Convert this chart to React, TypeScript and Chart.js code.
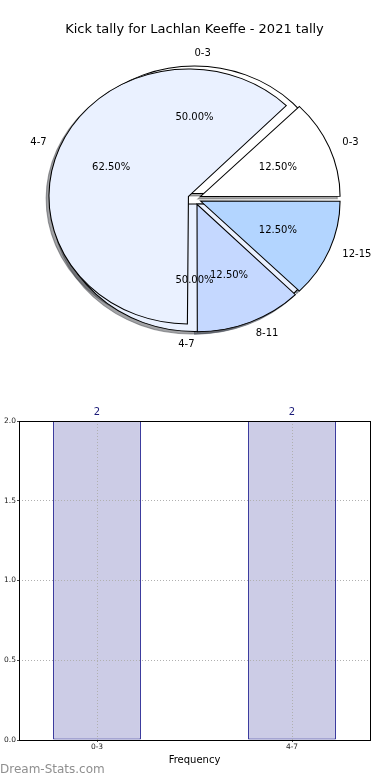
import React, { useEffect, useRef } from 'react';
import { Chart, registerables } from 'chart.js';

Chart.register(...registerables);
Chart.defaults.font.family = "'DejaVu Sans', sans-serif";

// ---------- data ----------
const TITLE = 'Kick tally for Lachlan Keeffe - 2021 tally';
const pieCategories = ['0-3', '4-7', '8-11', '12-15'];
const pieValues = [1, 5, 1, 1];
const pieColors = ['#ffffff', '#eaf1ff', '#c5d8ff', '#b3d5ff'];
const freqCategories = ['0-3', '4-7'];
const freqValues = [2, 2];
const freqPieColors = ['#ffffff', '#eaf1ff'];
const yTickValues = [0, 0.5, 1, 1.5, 2];
const X_AXIS_TITLE = 'Frequency';
const WATERMARK = 'Dream-Stats.com';

// ---------- geometry / style ----------
const R = 127.5; // vertical radius
const K = 1.094; // horizontal stretch (ellipse)
const FRONT_OFFSET = 24; // chart.js offset (px*4)
const BACK_OFFSET = 21;

function shadowColor(hex: string): string {
  const h = hex.replace('#', '');
  const r = parseInt(h.slice(0, 2), 16);
  const g = parseInt(h.slice(2, 4), 16);
  const b = parseInt(h.slice(4, 6), 16);
  return `rgba(${Math.round(r * 0.3)},${Math.round(g * 0.3)},${Math.round(b * 0.3)},0.5)`;
}

const piePlugin = {
  id: 'mplPie',
  afterDatasetsUpdate(chart: any) {
    chart.data.datasets.forEach((_ds: any, di: number) => {
      const meta = chart.getDatasetMeta(di);
      meta.data.forEach((arc: any) => {
        const off = (arc.options.offset || 0) / 4;
        const circ = arc.endAngle - arc.startAngle;
        const fix = 1 - Math.sin(Math.min(Math.PI, circ));
        arc.innerRadius = 0;
        arc.outerRadius = R - off * fix;
      });
    });
  },
  beforeDatasetsDraw(chart: any) {
    const ctx = chart.ctx;
    const a = chart.chartArea;
    const cx = (a.left + a.right) / 2;
    ctx.save();
    ctx.translate(cx, 0);
    ctx.scale(K, 1);
    ctx.translate(-cx, 0);
    for (let di = chart.data.datasets.length - 1; di >= 0; di--) {
      const meta = chart.getDatasetMeta(di);
      meta.data.forEach((arc: any) => {
        const orig = arc.options;
        const c = shadowColor(orig.backgroundColor);
        arc.options = { ...orig, backgroundColor: c, borderColor: c };
        ctx.save();
        ctx.translate(-0.02 * R, 0.02 * R);
        arc.draw(ctx);
        ctx.restore();
        arc.options = orig;
      });
    }
  },
  afterDatasetsDraw(chart: any) {
    const ctx = chart.ctx;
    ctx.restore();
    const a = chart.chartArea;
    const cx = (a.left + a.right) / 2;
    const cy = (a.top + a.bottom) / 2;
    ctx.save();
    ctx.fillStyle = '#000';
    ctx.font = "10px 'DejaVu Sans'";
    ctx.textBaseline = 'middle';
    for (let di = chart.data.datasets.length - 1; di >= 0; di--) {
      const ds = chart.data.datasets[di];
      const meta = chart.getDatasetMeta(di);
      const total = ds.data.reduce((s: number, v: number) => s + v, 0);
      meta.data.forEach((arc: any, i: number) => {
        const off = (arc.options.offset || 0) / 4;
        const mid = (arc.startAngle + arc.endAngle) / 2;
        const ca = Math.cos(mid);
        const sa = Math.sin(mid);
        const mpl = 2 * Math.PI - mid;
        const alignRight = Math.cos(mpl) <= 0;
        const lx = cx + K * (off + 1.1 * R) * ca;
        const ly = cy + (off + 1.1 * R) * sa;
        ctx.textAlign = alignRight ? 'right' : 'left';
        ctx.fillText(ds.catLabels[i], lx, ly);
        const px = cx + K * (off + 0.6 * R) * ca;
        const py = cy + (off + 0.6 * R) * sa;
        ctx.textAlign = 'center';
        ctx.fillText(((ds.data[i] / total) * 100).toFixed(2) + '%', px, py);
      });
    }
    ctx.restore();
  },
};

const barPlugin = {
  id: 'mplBar',
  afterDraw(chart: any) {
    const ctx = chart.ctx;
    const a = chart.chartArea;
    ctx.save();
    ctx.strokeStyle = '#000';
    ctx.lineWidth = 1;
    ctx.strokeRect(Math.round(a.left) + 0.5, Math.round(a.top) + 0.5, Math.round(a.right - a.left), Math.round(a.bottom - a.top));
    const meta = chart.getDatasetMeta(0);
    ctx.fillStyle = '#1a1a78';
    ctx.font = "10px 'DejaVu Sans'";
    ctx.textAlign = 'center';
    ctx.textBaseline = 'middle';
    meta.data.forEach((bar: any, i: number) => {
      ctx.fillText(String(freqValues[i]), bar.x, bar.y - 9);
    });
    ctx.fillStyle = '#8f8f8f';
    ctx.font = "12px 'DejaVu Sans'";
    ctx.textAlign = 'left';
    ctx.fillText(WATERMARK, 0, 370);
    ctx.restore();
  },
};

export default function App() {
  const pieRef = useRef<HTMLCanvasElement>(null);
  const barRef = useRef<HTMLCanvasElement>(null);

  useEffect(() => {
    const rev = <T,>(arr: T[]) => [...arr].reverse();
    const pie = new Chart(pieRef.current as HTMLCanvasElement, {
      type: 'pie',
      data: {
        labels: rev(pieCategories),
        datasets: [
          {
            data: rev(pieValues),
            catLabels: rev(pieCategories),
            backgroundColor: rev(pieColors),
            borderColor: '#000',
            borderWidth: 1,
            borderJoinStyle: 'miter',
            offset: FRONT_OFFSET,
            rotation: 90,
            clip: false,
          } as any,
          {
            data: rev(freqValues),
            catLabels: rev(freqCategories),
            backgroundColor: rev(freqPieColors),
            borderColor: '#000',
            borderWidth: 1,
            borderJoinStyle: 'miter',
            offset: BACK_OFFSET,
            rotation: 90,
            clip: false,
          } as any,
        ],
      },
      options: {
        animation: false,
        responsive: false,
        events: [],
        rotation: 90,
        layout: { padding: { left: 0, right: 1, top: 0, bottom: 40.1 } },
        plugins: {
          legend: { display: false },
          tooltip: { enabled: false },
          title: {
            display: true,
            text: TITLE,
            color: '#000',
            font: { size: 13, weight: 'normal' },
            padding: { top: 22, bottom: 0 },
          },
        },
      } as any,
      plugins: [piePlugin],
    });

    const bar = new Chart(barRef.current as HTMLCanvasElement, {
      type: 'bar',
      data: {
        datasets: [
          {
            data: freqCategories.map((_, i) => ({ x: i, y: freqValues[i] })),
            backgroundColor: '#ccccE6',
            borderColor: '#000080',
            borderWidth: 1,
            borderSkipped: false,
            categoryPercentage: 1,
            barPercentage: 0.45,
          } as any,
        ],
      },
      options: {
        animation: false,
        responsive: false,
        events: [],
        layout: { padding: { top: 21, right: 20, left: 0, bottom: 0 } },
        plugins: { legend: { display: false }, tooltip: { enabled: false } },
        scales: {
          x: {
            type: 'linear',
            min: -0.4,
            max: 1.4,
            offset: false,
            afterBuildTicks: (s: any) => {
              s.ticks = freqCategories.map((_, i) => ({ value: i }));
            },
            afterFit: (s: any) => {
              s.height = 40;
            },
            ticks: {
              callback: (v: any) => freqCategories[v] ?? '',
              font: { size: 7.5 },
              color: '#222',
              padding: 1,
              maxRotation: 0,
              autoSkip: false,
            },
            grid: { offset: false, color: '#b0b0b0', z: 1, tickLength: 2, tickColor: '#444', tickBorderDash: [] },
            border: { display: false, dash: [1, 2] },
            title: {
              display: true,
              text: X_AXIS_TITLE,
              color: '#000',
              font: { size: 10 },
              padding: { top: 0, bottom: 14 },
            },
          },
          y: {
            type: 'linear',
            min: 0,
            max: 2,
            afterBuildTicks: (s: any) => {
              s.ticks = yTickValues.map((v) => ({ value: v }));
            },
            afterFit: (s: any) => {
              s.width = 19;
            },
            ticks: {
              callback: (v: any) => Number(v).toFixed(1),
              font: { size: 7.5 },
              color: '#222',
              padding: 1,
            },
            grid: { color: '#b0b0b0', z: 1, tickLength: 2, tickColor: '#444', tickBorderDash: [] },
            border: { display: false, dash: [1, 2] },
          },
        },
      } as any,
      plugins: [barPlugin],
    });

    return () => {
      pie.destroy();
      bar.destroy();
    };
  }, []);

  return (
    <div style={{ position: 'absolute', left: 0, top: 0, width: 390, height: 780, background: '#fff' }}>
      <canvas ref={pieRef} width={390} height={400} style={{ position: 'absolute', left: 0, top: 0, width: 390, height: 400 }} />
      <canvas ref={barRef} width={390} height={380} style={{ position: 'absolute', left: 0, top: 400, width: 390, height: 380 }} />
    </div>
  );
}
